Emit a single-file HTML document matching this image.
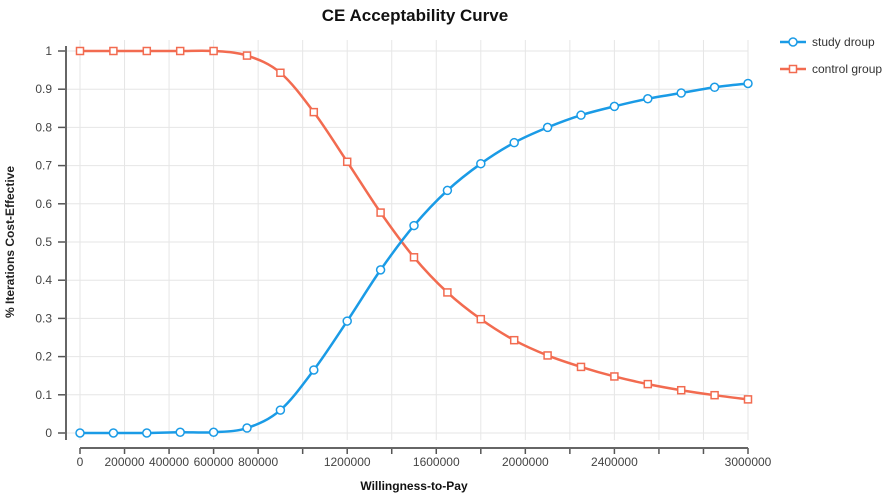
<!DOCTYPE html>
<html><head><meta charset="utf-8"><style>
body{margin:0;background:#fff;font-family:"Liberation Sans",sans-serif}
svg text{font-family:"Liberation Sans",sans-serif}
</style></head><body>
<svg id="chart" width="886" height="494"></svg>
<script>
const xValues=[0,150000,300000,450000,600000,750000,900000,1050000,1200000,1350000,1500000,1650000,1800000,1950000,2100000,2250000,2400000,2550000,2700000,2850000,3000000];
const studyValues=[0,0,0,0.002,0.002,0.013,0.06,0.165,0.293,0.427,0.543,0.635,0.705,0.76,0.8,0.832,0.855,0.875,0.89,0.905,0.915];
const controlValues=[1,1,1,1,1,0.988,0.943,0.84,0.71,0.577,0.46,0.368,0.298,0.243,0.203,0.173,0.148,0.128,0.112,0.099,0.088];
const xTicks=[0,200000,400000,600000,800000,1000000,1200000,1400000,1600000,1800000,2000000,2200000,2400000,2600000,2800000,3000000];
const xTickLabels=["0","200000","400000","600000","800000","","1200000","","1600000","","2000000","","2400000","","","3000000"];
const yTicks=[0,0.1,0.2,0.3,0.4,0.5,0.6,0.7,0.8,0.9,1];
const yTickLabels=["0","0.1","0.2","0.3","0.4","0.5","0.6","0.7","0.8","0.9","1"];
const NS="http://www.w3.org/2000/svg";
const svg=document.getElementById('chart');
const X=v=>80+v/3000000*668;
const Y=v=>433-v*382;
function mk(t,a,p){const e=document.createElementNS(NS,t);for(const k in a)e.setAttribute(k,a[k]);(p||svg).appendChild(e);return e;}
// grid
yTicks.forEach((v,i)=>{
 const g=mk('line',{x1:66,x2:748,y1:Y(v),y2:Y(v),stroke:'#e6e6e6','stroke-width':1});
 
 
 const t=mk('line',{x1:58,x2:66,y1:Y(v),y2:Y(v),stroke:'#555','stroke-width':1.5});
 
 
 const l=mk('text',{x:52,y:Y(v)+4,'text-anchor':'end','font-size':12,fill:'#444'});
 l.textContent=yTickLabels[i];
 
 
});
xTicks.forEach((v,i)=>{
 const g=mk('line',{x1:X(v),x2:X(v),y1:40,y2:440,stroke:'#e6e6e6','stroke-width':1});
 
 
 const t=mk('line',{x1:X(v),x2:X(v),y1:448,y2:454,stroke:'#555','stroke-width':1.5});
 
 
 const l=mk('text',{x:X(v),y:466,'text-anchor':'middle','font-size':12,fill:'#444'});
 l.textContent=xTickLabels[i];
 
 
});
const ya=mk('line',{x1:66,x2:66,y1:46,y2:440,stroke:'#666','stroke-width':2});


const xa=mk('line',{x1:80,x2:748,y1:448,y2:448,stroke:'#666','stroke-width':2});


function smooth(pts){let d=`M${pts[0][0]},${pts[0][1]}`;for(let i=0;i<pts.length-1;i++){const p0=pts[Math.max(0,i-1)],p1=pts[i],p2=pts[i+1],p3=pts[Math.min(pts.length-1,i+2)];d+=` C${p1[0]+(p2[0]-p0[0])/6},${p1[1]+(p2[1]-p0[1])/6} ${p2[0]-(p3[0]-p1[0])/6},${p2[1]-(p3[1]-p1[1])/6} ${p2[0]},${p2[1]}`;}return d;}
function series(vals,color,name,circle){
 const pts=xValues.map((x,i)=>[X(x),Y(vals[i])]);
 const p=mk('path',{d:smooth(pts),fill:'none',stroke:color,'stroke-width':2.5});
 
 
 pts.forEach(q=>{
  const m=circle?mk('circle',{cx:q[0],cy:q[1],r:4,fill:'#fff',stroke:color,'stroke-width':1.5}):mk('rect',{x:q[0]-3.5,y:q[1]-3.5,width:7,height:7,fill:'#fff',stroke:color,'stroke-width':1.5});
  
  
 });
}
series(controlValues,'#f26b50','control-group',false);
series(studyValues,'#1a9be6','study-group',true);
</script>
<svg width="886" height="494" style="position:absolute;left:0;top:0">
<text x="415" y="21" text-anchor="middle" font-size="17" font-weight="bold" fill="#111">CE Acceptability Curve</text>
<text x="414" y="490" text-anchor="middle" font-size="12" font-weight="bold" fill="#111">Willingness-to-Pay</text>
<text transform="translate(14,242) rotate(-90)" text-anchor="middle" font-size="12" font-weight="bold" fill="#222">% Iterations Cost-Effective</text>
<g>
<line x1="780" x2="806" y1="42" y2="42" stroke="#1a9be6" stroke-width="2.5"/><circle cx="793" cy="42" r="4" fill="#fff" stroke="#1a9be6" stroke-width="1.5"/>
<text x="812" y="46" font-size="12" fill="#333">study droup</text></g>
<g>
<line x1="780" x2="806" y1="69" y2="69" stroke="#f26b50" stroke-width="2.5"/><rect x="789.5" y="65.5" width="7" height="7" fill="#fff" stroke="#f26b50" stroke-width="1.5"/>
<text x="812" y="73" font-size="12" fill="#333">control group</text></g>
</svg>
</body></html>
